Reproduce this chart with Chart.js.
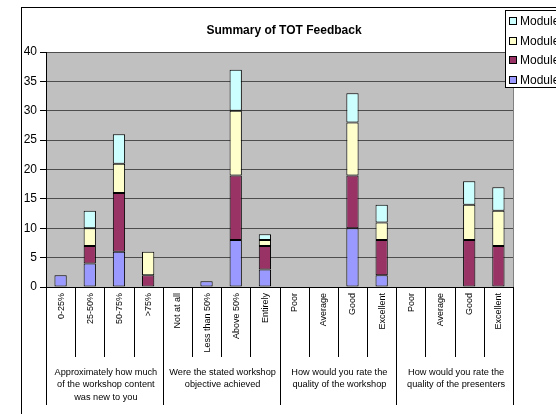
<!DOCTYPE html>
<html>
<head>
<meta charset="utf-8">
<script src="https://cdn.jsdelivr.net/npm/chart.js@4.4.0/dist/chart.umd.min.js"></script>
<style>
  html, body { margin: 0; padding: 0; background: #ffffff; }
  #wrap { width: 556px; height: 414px; position: relative; }
</style>
</head>
<body>
<div id="wrap"><canvas id="c" width="556" height="414"></canvas></div>
<script>
// ---- Data ----
const titleText = 'Summary of TOT Feedback';
const categories = ['0-25%', '25-50%', '50-75%', '>75%',
  'Not at all', 'Less than 50%', 'Above 50%', 'Entirely',
  'Poor', 'Average', 'Good', 'Excellent',
  'Poor', 'Average', 'Good', 'Excellent'];
const groupLabels = [
  ['Approximately how much', 'of the workshop content', 'was new to you'],
  ['Were the stated workshop', 'objective achieved'],
  ['How would you rate the', 'quality of the workshop'],
  ['How would you rate the', 'quality of the presenters']
];
const groupSizes = [4, 4, 4, 4];
const seriesNames = ['Module 1', 'Module 2', 'Module 3', 'Module 4'];
const module1 = [2, 4, 6, 0, 0, 1, 8, 3, 0, 0, 10, 2, 0, 0, 0, 0];
const module2 = [0, 3, 10, 2, 0, 0, 11, 4, 0, 0, 9, 6, 0, 0, 8, 7];
const module3 = [0, 3, 5, 4, 0, 0, 11, 1, 0, 0, 9, 3, 0, 0, 6, 6];
const module4 = [0, 3, 5, 0, 0, 0, 7, 1, 0, 0, 5, 3, 0, 0, 4, 4];
const seriesColors = ['#9999FF', '#993366', '#FFFFCC', '#CCFFFF'];
const yMin = 0, yMax = 40, yStep = 5;

const FONT = "'Liberation Sans', Arial, sans-serif";
const seriesValues = [module1, module2, module3, module4];

const datasets = seriesValues.map((vals, i) => ({
  label: seriesNames[i],
  data: vals.map(v => (v === 0 ? null : v)),
  backgroundColor: seriesColors[i],
  borderColor: '#000000',
  borderWidth: 1,
  borderSkipped: false,
  categoryPercentage: 1.0,
  barPercentage: 0.42,
  stack: 'all'
}));

const decorPlugin = {
  id: 'decor',
  beforeDraw(chart) {
    const ctx = chart.ctx, a = chart.chartArea;
    ctx.save();
    ctx.fillStyle = '#ffffff';
    ctx.fillRect(0, 0, chart.width, chart.height);
    ctx.fillStyle = '#C0C0C0';
    ctx.fillRect(a.left, a.top, a.right - a.left, a.bottom - a.top);
    ctx.restore();
  },
  afterDraw(chart) {
    const ctx = chart.ctx, a = chart.chartArea;
    const xs = chart.scales.x;
    ctx.save();
    // plot area right border
    ctx.strokeStyle = '#808080';
    ctx.lineWidth = 1;
    ctx.beginPath();
    ctx.moveTo(a.right + 0.5, a.top);
    ctx.lineTo(a.right + 0.5, a.bottom);
    ctx.stroke();

    // chart outer border
    ctx.strokeStyle = '#000000';
    ctx.strokeRect(21.5, 7.5, 1000, 1000);

    // category separators
    const half = (xs.getPixelForValue(1) - xs.getPixelForValue(0)) / 2;
    let boundaries = new Set();
    let idx = 0;
    const groupEdges = [0];
    groupSizes.forEach(s => { idx += s; groupEdges.push(idx); });
    ctx.strokeStyle = '#000000';
    for (let i = 0; i <= categories.length; i++) {
      const x = Math.round(xs.getPixelForValue(i) - half) + 0.5;
      const isGroup = groupEdges.includes(i);
      ctx.beginPath();
      ctx.moveTo(x, a.bottom);
      ctx.lineTo(x, isGroup ? 405 : 357);
      ctx.stroke();
    }

    // category labels (vertical)
    ctx.fillStyle = '#000000';
    ctx.font = '9px ' + FONT;
    categories.forEach((lab, i) => {
      const x = xs.getPixelForValue(i);
      ctx.save();
      ctx.translate(x + 0.5, a.bottom + 6);
      ctx.rotate(-Math.PI / 2);
      ctx.textAlign = 'right';
      ctx.textBaseline = 'middle';
      ctx.fillText(lab, 0, 0);
      ctx.restore();
    });

    // group labels
    ctx.textAlign = 'center';
    ctx.textBaseline = 'middle';
    ctx.font = '9.2px ' + FONT;
    groupLabels.forEach((lines, g) => {
      const x0 = xs.getPixelForValue(groupEdges[g]) - half;
      const x1 = xs.getPixelForValue(groupEdges[g + 1]) - half;
      const cx = (x0 + x1) / 2 + 1.5;
      lines.forEach((ln, k) => ctx.fillText(ln, cx, 372 + k * 12.5));
    });

    // title
    ctx.font = 'bold 12px ' + FONT;
    ctx.fillText(titleText, 284, 31);

    // legend
    ctx.fillStyle = '#ffffff';
    ctx.fillRect(505.5, 10.5, 100, 77);
    ctx.strokeStyle = '#000000';
    ctx.strokeRect(505.5, 10.5, 100, 77);
    ctx.font = '12px ' + FONT;
    ctx.textAlign = 'left';
    for (let k = 0; k < seriesNames.length; k++) {
      const si = seriesNames.length - 1 - k;
      const cy = 21.3 + k * 19.5;
      ctx.fillStyle = seriesColors[si];
      ctx.fillRect(509.5, Math.round(cy - 4) + 0.5, 7, 7);
      ctx.strokeRect(509.5, Math.round(cy - 4) + 0.5, 7, 7);
      ctx.fillStyle = '#000000';
      ctx.fillText(seriesNames[si], 520, cy + 0.5);
    }
    ctx.restore();
  }
};

new Chart(document.getElementById('c'), {
  type: 'bar',
  data: { labels: categories, datasets: datasets },
  options: {
    responsive: false,
    animation: false,
    devicePixelRatio: 1,
    layout: { padding: { left: 22, top: 52, right: 43, bottom: 0 } },
    plugins: {
      legend: { display: false },
      title: { display: false },
      tooltip: { enabled: false }
    },
    scales: {
      x: {
        stacked: true,
        grid: { display: false },
        ticks: { display: false },
        border: { display: true, color: '#000000', width: 1 },
        afterFit(scale) { scale.height = 127; }
      },
      y: {
        stacked: true,
        min: yMin,
        max: yMax,
        ticks: {
          stepSize: yStep,
          color: '#000000',
          font: { family: FONT, size: 12 },
          padding: 3
        },
        grid: {
          color: '#4d4d4d',
          lineWidth: 1,
          tickLength: 6,
          tickColor: '#000000',
          drawTicks: true
        },
        border: { display: true, color: '#000000', width: 1 },
        afterFit(scale) { scale.width = 24; }
      }
    }
  },
  plugins: [decorPlugin]
});
</script>
</body>
</html>
